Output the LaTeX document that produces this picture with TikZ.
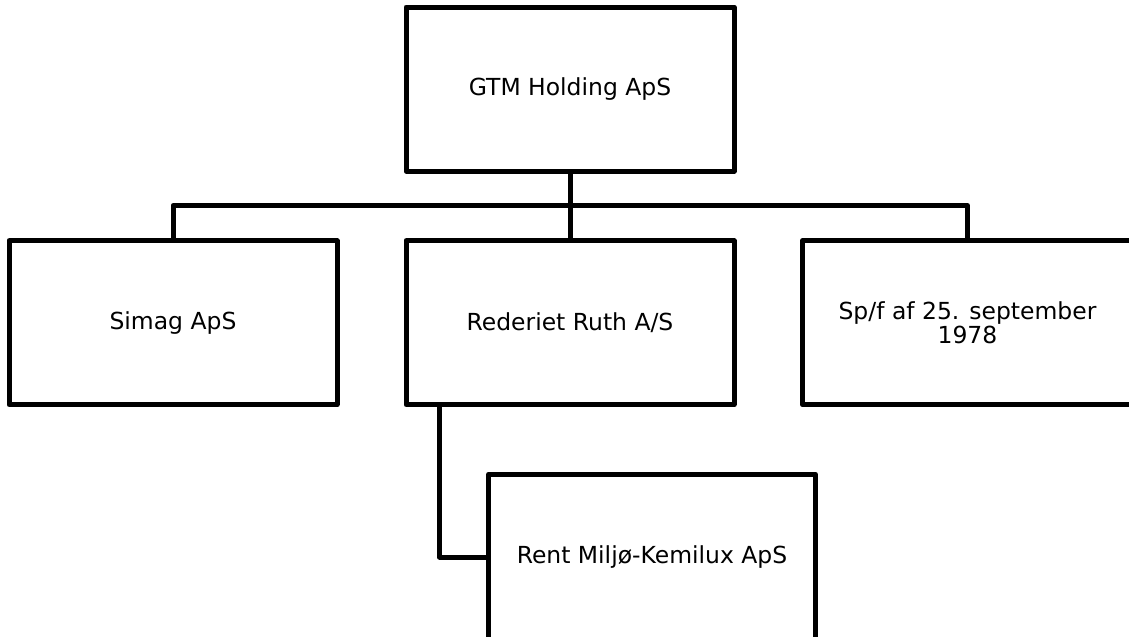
\documentclass[tikz,border=0pt]{standalone}
\usepackage{fontspec}
\setmainfont{DejaVu Sans}
\begin{document}
\begin{tikzpicture}[x=0.75pt,y=-0.75pt,
  orgbox/.style={draw=black, line width=3.75pt, line join=round, fill=white,
    minimum width=246pt, minimum height=123pt, inner sep=0pt, outer sep=0pt,
    align=center, font=\fontsize{17.6}{18}\selectfont},
  link/.style={draw=black, line width=3.75pt, line join=round}]
\useasboundingbox (0,0) rectangle (1129,636);
\clip (0,0) rectangle (1129,636);
\node[orgbox] (top) at (570,89) {GTM Holding ApS};
\node[orgbox] (simag) at (173,322.75) {Simag ApS};
\node[orgbox] (ruth) at (570,322.75) {Rederiet Ruth A/S};
\node[orgbox, minimum width=247.5pt] (spf) at (967.5,322.75) {Sp/f af 25. september\\1978};
\node[orgbox, minimum width=245.25pt, minimum height=124pt] (rent) at (652,557) {Rent Miljø-Kemilux ApS};
\coordinate (bus) at (570,205.5);
\coordinate (rs) at (439.5,405);
\draw[link] (top.south) -- (ruth.north);
\draw[link] (simag.north) -- (simag.north |- bus) -- (spf.north |- bus) -- (spf.north);
\draw[link] (rs) |- (rent.west);
\end{tikzpicture}
\end{document}
